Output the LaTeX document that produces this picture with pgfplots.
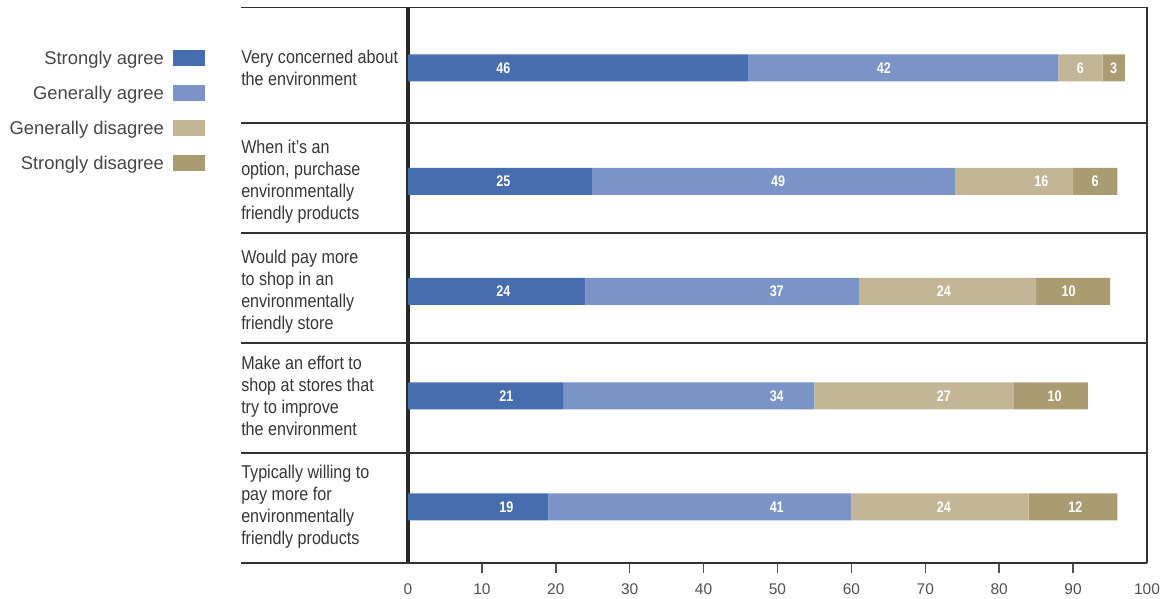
\documentclass[border=0pt]{standalone}
\usepackage{fontspec}
\setmainfont{Liberation Sans}
\newfontfamily\catfont[FakeStretch=0.87]{Liberation Sans}
\newfontfamily\valfont[FakeStretch=0.82]{Liberation Sans}
\usepackage{pgfplots}
\usepackage{pgfplotstable}
\pgfplotsset{compat=1.18}

\definecolor{sagree}{RGB}{70,110,174}
\definecolor{gagree}{RGB}{123,147,198}
\definecolor{gdisagree}{RGB}{195,181,149}
\definecolor{sdisagree}{RGB}{170,155,113}
\definecolor{rulecol}{RGB}{50,50,50}
\definecolor{labeltext}{RGB}{55,55,55}
\definecolor{legendtext}{RGB}{70,70,70}
\definecolor{ticktext}{RGB}{80,80,80}

% share of respondents per statement (percent): sa, ga, gd, sd
% l* columns: where each value label sits along the bar
\pgfplotstableread{
pos    sa  ga  gd  sd   lsa   lga   lgd   lsd
0      46  42   6   3   12.9  64.4  91.0  95.5
-1.03  25  49  16   6   12.9  50.1  85.7  93.0
-2.03  24  37  24  10   12.9  49.9  72.5  89.4
-2.98  21  34  27  10   13.3  49.9  72.5  87.5
-3.99  19  41  24  12   13.3  49.9  72.5  90.3
}\survey

\pgfplotsset{
  panel/.style={
    scale only axis,
    width=554.25pt, height=416.625pt,
    xmin=0, xmax=100,
    ymin=-4.5, ymax=0.55,
    clip=false,
    /pgf/number format/assume math mode=true,
  },
  segment/.style={fill=#1, draw=none},
}

\begin{document}
\begin{tikzpicture}
\begin{axis}[
  panel,
  xbar stacked,
  bar width=20.25pt,
  axis line style={draw=none},
  tick align=outside,
  xtick={10,20,...,90},
  xtick pos=bottom,
  major tick length=7.5pt,
  xtick style={draw=ticktext, line width=1.1pt},
  extra x ticks={0,100},
  extra x tick style={xtick style={draw=none}},
  xticklabel style={font=\fontsize{11.6pt}{13pt}\selectfont, text=ticktext, yshift=-4.5pt},
  ytick={-3.99,-2.98,-2.03,-1.03,0},
  yticklabels={
    {Typically willing to\\pay more for\\environmentally\\friendly products},
    {Make an effort to\\shop at stores that\\try to improve\\the environment},
    {Would pay more\\to shop in an\\environmentally\\friendly store},
    {When it’s an\\option, purchase\\environmentally\\friendly products},
    {Very concerned about\\the environment}},
  ytick pos=left,
  ytick style={draw=none},
  yticklabel style={anchor=west, align=left, inner sep=0pt, xshift=-117.75pt,
    font=\catfont\fontsize{13.9pt}{16.5pt}\selectfont, text=labeltext},
  legend cell align=right,
  legend plot pos=right,
  legend style={at={(axis cs:-27.47,0.1758)}, anchor=north east,
    draw=none, fill=none, inner sep=0pt, outer sep=0pt,
    row sep=12.25pt, column sep=6.75pt,
    font=\fontsize{13.8pt}{16pt}\selectfont, text=legendtext,
    cells={anchor=east},
    nodes={inner sep=0pt, text height=12pt, text depth=2pt}},
  legend image code/.code={\fill[#1] (0pt,-6pt) rectangle (24pt,6pt);},
]
\addplot[segment=sagree] table[x=sa, y=pos] {\survey};
\addlegendentry{Strongly agree}
\addplot[segment=gagree] table[x=ga, y=pos] {\survey};
\addlegendentry{Generally agree}
\addplot[segment=gdisagree] table[x=gd, y=pos] {\survey};
\addlegendentry{Generally disagree}
\addplot[segment=sdisagree] table[x=sd, y=pos] {\survey};
\addlegendentry{Strongly disagree}

% row rules, frame and the heavy zero line
\pgfplotsinvokeforeach{0.55,-0.5,-1.5,-2.5,-3.5,-4.5}{
  \draw[rulecol, line width=1pt] (axis cs:-22.6,#1) -- (axis cs:100,#1);
}
\draw[rulecol, line width=1.1pt] (axis cs:100,0.55) -- (axis cs:100,-4.5);
\draw[black!85, line width=2.6pt] (axis cs:0,0.55) -- (axis cs:0,-4.5);

\coordinate (bbsw) at (axis cs:-55.21,-4.827);
\coordinate (bbne) at (axis cs:102.17,0.618);
\end{axis}

% value labels on the bars, same frame, no stacking
\begin{axis}[
  panel,
  hide axis,
  nodes near coords,
  point meta=explicit,
  every node near coord/.append style={anchor=center, inner sep=0pt,
    font=\valfont\bfseries\fontsize{11.5pt}{12pt}\selectfont, text=white},
]
\addplot[draw=none, mark=none] table[x=lsa, y=pos, meta=sa] {\survey};
\addplot[draw=none, mark=none] table[x=lga, y=pos, meta=ga] {\survey};
\addplot[draw=none, mark=none] table[x=lgd, y=pos, meta=gd] {\survey};
\addplot[draw=none, mark=none] table[x=lsd, y=pos, meta=sd] {\survey};
\end{axis}
\pgfresetboundingbox
\path[use as bounding box] (bbsw) rectangle (bbne);
\end{tikzpicture}
\end{document}
